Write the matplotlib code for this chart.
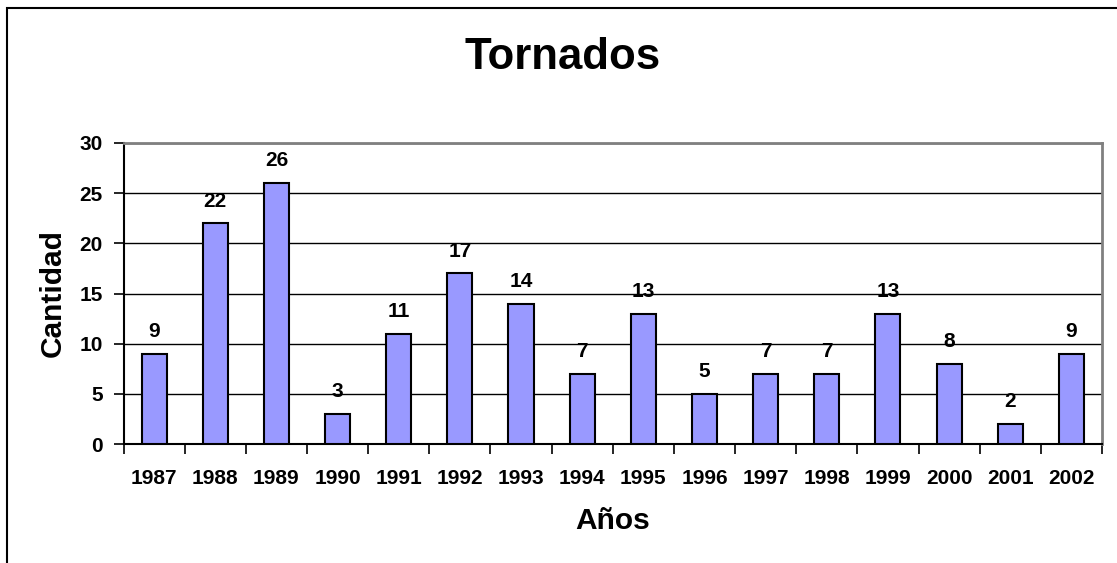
import matplotlib
matplotlib.use("Agg")
import matplotlib.pyplot as plt
from matplotlib.patches import Rectangle
import numpy as np

years = ["1987", "1988", "1989", "1990", "1991", "1992", "1993", "1994",
         "1995", "1996", "1997", "1998", "1999", "2000", "2001", "2002"]
counts = [9, 22, 26, 3, 11, 17, 14, 7, 13, 5, 7, 7, 13, 8, 2, 9]

plt.rcParams["font.family"] = ["Liberation Sans", "DejaVu Sans"]
plt.rcParams["font.weight"] = "bold"

W, H = 1117, 563
fig = plt.figure(figsize=(W / 100, H / 100), dpi=100)

# outer chart frame
fig.patches.append(Rectangle((7 / W, -0.05), 1.2, 1 - 8 / H + 0.05,
                             transform=fig.transFigure, fill=False,
                             edgecolor="black", linewidth=1.5, zorder=0))

ax = fig.add_axes([123.5 / W, 1 - 444 / H, (1102 - 123.5) / W, (444 - 143) / H])
x = np.arange(len(years))
ax.bar(x, counts, width=0.41, color="#9999FF", edgecolor="black",
       linewidth=1.5, zorder=3)

for xi, v in zip(x, counts):
    ax.annotate(str(v), (xi, v), xytext=(0, 12), textcoords="offset points",
                ha="center", va="baseline", fontsize=15, fontweight="bold")

ax.set_xlim(-0.5, len(years) - 0.5)
ax.set_ylim(0, 30)
ax.set_yticks(range(0, 31, 5))
ax.yaxis.grid(True, color="black", linewidth=1.0, zorder=0)
ax.set_axisbelow(True)

ax.set_xticks(x)
ax.set_xticklabels(years)
ax.set_xticks(np.arange(-0.5, len(years), 1), minor=True)
ax.tick_params(axis="x", which="major", length=0, pad=18, labelsize=15)
ax.tick_params(axis="x", which="minor", length=7, width=1.2, direction="out")
ax.tick_params(axis="y", length=7, width=1.2, pad=8, labelsize=15)

for side in ("top", "right"):
    ax.spines[side].set_color("#808080")
    ax.spines[side].set_linewidth(2)
for side in ("left", "bottom"):
    ax.spines[side].set_color("black")
    ax.spines[side].set_linewidth(1.5)

ax.set_xlabel("Años", fontsize=21.5, fontweight="bold", labelpad=14)
ax.set_ylabel("Cantidad", fontsize=21.5, fontweight="bold", labelpad=9)

fig.text(563 / W, 1 - 37 / H, "Tornados", ha="center", va="top",
         fontsize=31.5, fontweight="bold")

fig.savefig("out.png", dpi=100)
